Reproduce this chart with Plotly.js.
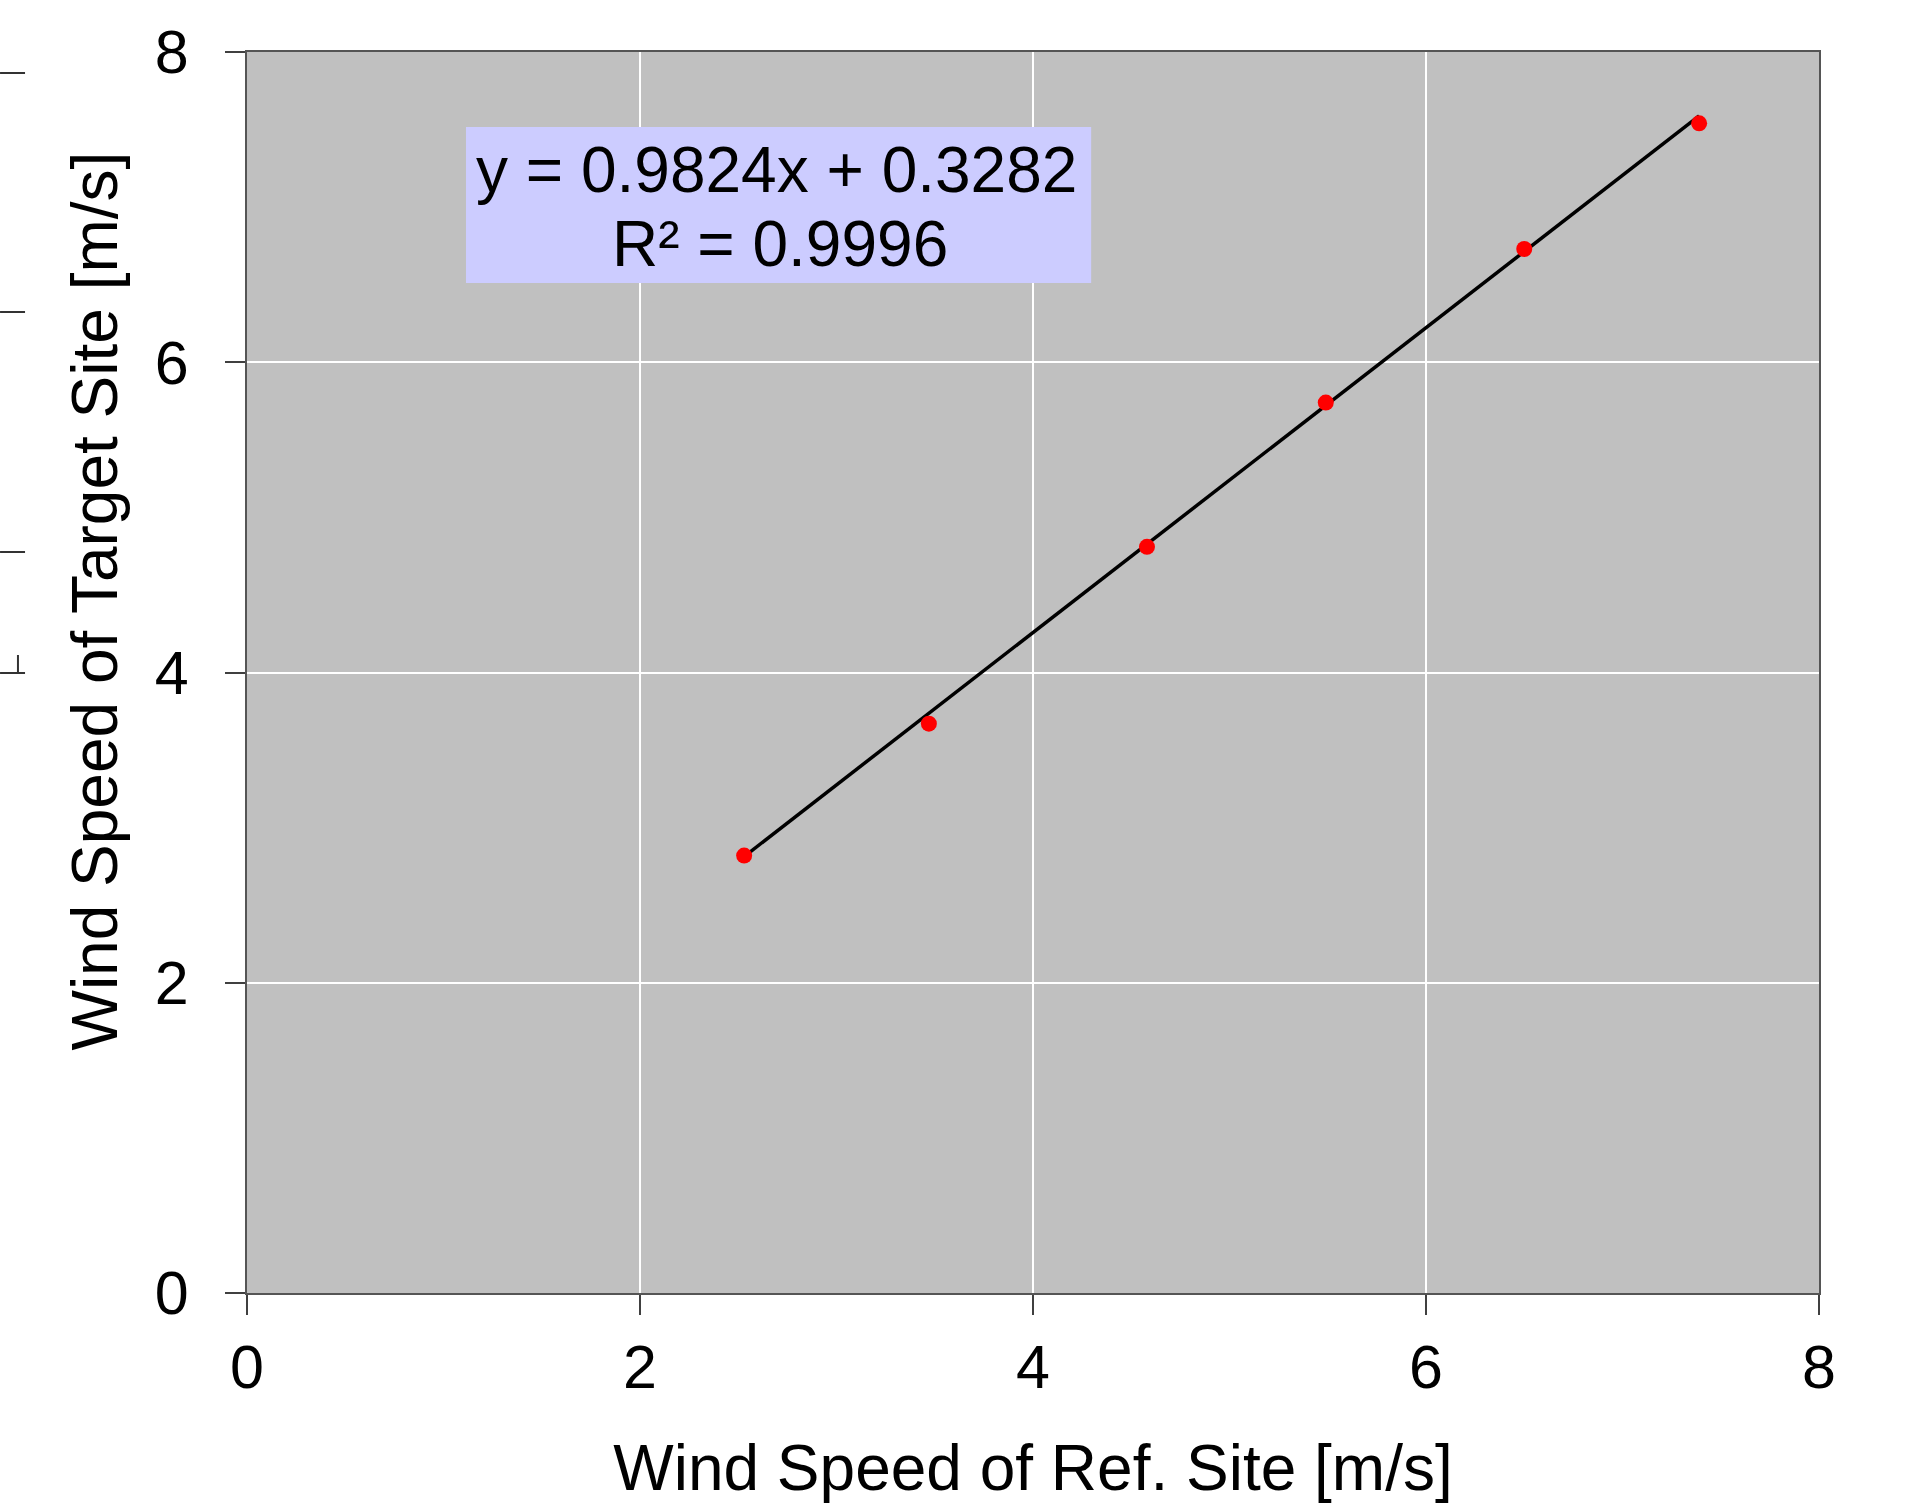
<!DOCTYPE html>
<html>
<head>
<meta charset="utf-8">
<script src="https://cdn.plot.ly/plotly-3.0.1.min.js"></script>
<style>
  html, body { margin: 0; padding: 0; background: #ffffff; }
  #chart { width: 1911px; height: 1504px; }
</style>
</head>
<body>
<div id="chart"></div>
<script>
// Data
const refSpeed    = [2.53, 3.47, 4.58, 5.49, 6.50, 7.39];   // Wind speed of reference site [m/s]
const targetSpeed = [2.82, 3.67, 4.81, 5.74, 6.73, 7.54];   // Wind speed of target site [m/s]
const fitSlope = 0.9824;
const fitIntercept = 0.3282;
const fitR2 = 0.9996;
const tickValues = [0, 2, 4, 6, 8];
const tickLabels = ["0", "2", "4", "6", "8"];

const trendX = [Math.min(...refSpeed), Math.max(...refSpeed)];
const trendY = trendX.map(x => fitSlope * x + fitIntercept);

const FONT = "Liberation Sans, Arial, Helvetica, sans-serif";

const traces = [
  {
    x: trendX, y: trendY,
    type: "scatter", mode: "lines",
    line: { color: "#000000", width: 3.5 },
    hoverinfo: "skip", showlegend: false
  },
  {
    x: refSpeed, y: targetSpeed,
    type: "scatter", mode: "markers",
    marker: { color: "#ff0000", size: 16 },
    showlegend: false
  }
];

const axisCommon = {
  range: [0, 8],
  tickmode: "array",
  tickvals: tickValues,
  ticktext: tickLabels,
  showgrid: true,
  gridcolor: "#ffffff",
  gridwidth: 2,
  zeroline: false,
  showline: true,
  linecolor: "#555555",
  linewidth: 2,
  mirror: true,
  ticks: "outside",
  ticklen: 20,
  tickwidth: 2,
  tickcolor: "#404040",
  tickfont: { family: FONT, size: 61, color: "#000000" }
};

const layout = {
  width: 1911,
  height: 1504,
  paper_bgcolor: "#ffffff",
  plot_bgcolor: "#c0c0c0",
  margin: { l: 247, r: 92, t: 52, b: 211, pad: 0 },
  showlegend: false,
  font: { family: FONT, color: "#000000" },
  xaxis: Object.assign({}, axisCommon, {
    ticklabelstandoff: 0,
    title: { text: "Wind Speed of Ref. Site [m/s]", font: { family: FONT, size: 64, color: "#000000" }, standoff: 58 }
  }),
  yaxis: Object.assign({}, axisCommon, {
    ticklabelstandoff: 24
  }),
  shapes: [
    { type: "rect", xref: "paper", yref: "paper", x0: 0.1393, x1: 0.537, y0: 0.8139, y1: 0.9396,
      fillcolor: "#ccccff", line: { width: 0 }, layer: "above" },
    // fragments of a neighbouring figure at the left edge
    { type: "line", xref: "paper", yref: "paper", x0: -0.1571, x1: -0.1412, y0: (1293-73)/1241, y1: (1293-73)/1241, line: { color: "#333333", width: 2 } },
    { type: "line", xref: "paper", yref: "paper", x0: -0.1571, x1: -0.1412, y0: (1293-312)/1241, y1: (1293-312)/1241, line: { color: "#333333", width: 2 } },
    { type: "line", xref: "paper", yref: "paper", x0: -0.1571, x1: -0.1412, y0: (1293-552)/1241, y1: (1293-552)/1241, line: { color: "#333333", width: 2 } },
    { type: "line", xref: "paper", yref: "paper", x0: -0.1571, x1: -0.1412, y0: (1293-673)/1241, y1: (1293-673)/1241, line: { color: "#333333", width: 2 } },
    { type: "line", xref: "paper", yref: "paper", x0: -0.1457, x1: -0.1457, y0: (1293-673)/1241, y1: (1293-655)/1241, line: { color: "#333333", width: 2 } }
  ],
  annotations: [
    { xref: "paper", yref: "paper", x: 0.337, y: 0.905, xanchor: "center", yanchor: "middle",
      text: "y = " + fitSlope.toFixed(4) + "x + " + fitIntercept.toFixed(4), showarrow: false,
      font: { family: FONT, size: 64, color: "#000000" } },
    { xref: "paper", yref: "paper", x: 0.339, y: 0.845, xanchor: "center", yanchor: "middle",
      text: "R² = " + fitR2.toFixed(4), showarrow: false,
      font: { family: FONT, size: 64, color: "#000000" } },
    { xref: "paper", yref: "paper", x: -0.0967, y: 0.558, xanchor: "center", yanchor: "middle",
      textangle: -90, text: "Wind Speed of Target Site [m/s]", showarrow: false,
      font: { family: FONT, size: 64, color: "#000000" } }
  ]
};

Plotly.newPlot("chart", traces, layout, { displayModeBar: false, responsive: false, staticPlot: true });
</script>
</body>
</html>
